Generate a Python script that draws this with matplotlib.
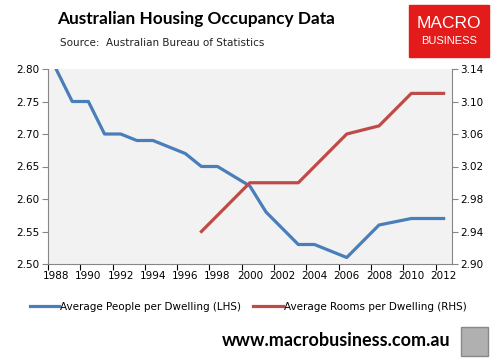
import matplotlib
matplotlib.use("Agg")
import matplotlib.pyplot as plt
from matplotlib.patches import Rectangle

years = list(range(1988, 2013))
people = [2.80, 2.75, 2.75, 2.70, 2.70, 2.69, 2.69, 2.68, 2.67, 2.65, 2.65, 2.635,
          2.62, 2.58, 2.555, 2.53, 2.53, 2.52, 2.51, 2.535, 2.56, 2.565, 2.57, 2.57, 2.57]
room_years = list(range(1997, 2013))
rooms = [2.94, 2.96, 2.98, 3.00, 3.00, 3.00, 3.00, 3.02, 3.04, 3.06, 3.065, 3.07,
         3.09, 3.11, 3.11, 3.11]
left_ticks = [2.50, 2.55, 2.60, 2.65, 2.70, 2.75, 2.80]
right_ticks = [2.90, 2.94, 2.98, 3.02, 3.06, 3.10, 3.14]

blue = "#4a7ebb"
red = "#be4b48"
axis_grey = "#868686"

fig = plt.figure(figsize=(4.96, 3.58), dpi=100)
ax = fig.add_axes([48 / 496, 1 - 264 / 358, (451.7 - 48) / 496, (264 - 69) / 358])
ax.set_facecolor("#f2f2f2")
ax2 = ax.twinx()

x_people = [y - years[0] for y in years]
x_rooms = [y - years[0] for y in room_years]
l1, = ax.plot(x_people, people, color=blue, lw=2.3, solid_joinstyle="round")
l2, = ax2.plot(x_rooms, rooms, color=red, lw=2.3, solid_joinstyle="round")

ax.set_xlim(-0.5, len(years) - 0.5)
ax.set_ylim(2.50, 2.80)
ax2.set_ylim(2.90, 3.14)
ax.set_yticks(left_ticks)
ax.set_yticklabels([f"{v:.2f}" for v in left_ticks])
ax2.set_yticks(right_ticks)
ax2.set_yticklabels([f"{v:.2f}" for v in right_ticks])

# category axis: ticks between categories, labels every other year
ax.set_xticks([i - 0.5 for i in range(0, len(years), 2)])
ax.set_xticklabels([])
ax.set_xticks(list(range(0, len(years), 2)), minor=True)
ax.set_xticklabels([str(y) for y in years[::2]], minor=True)
ax.tick_params(axis="x", which="minor", length=0, pad=5)
ax.tick_params(axis="x", which="major", length=4, color=axis_grey)

for a in (ax, ax2):
    for s in a.spines.values():
        s.set_visible(False)
    a.tick_params(labelsize=7.5, colors="black")
    a.tick_params(axis="y", length=4, color=axis_grey, pad=2)
ax.tick_params(axis="x", which="both", labelsize=7.5)
ax.spines["left"].set_visible(True)
ax.spines["left"].set_color(axis_grey)
ax.spines["bottom"].set_visible(True)
ax.spines["bottom"].set_color(axis_grey)
ax2.spines["right"].set_visible(True)
ax2.spines["right"].set_color(axis_grey)

fig.legend([l1, l2], ["Average People per Dwelling (LHS)", "Average Rooms per Dwelling (RHS)"],
           loc="center", bbox_to_anchor=(0.5, 1 - 307 / 358), ncol=2, frameon=False,
           fontsize=7.5, handlelength=2.8, handletextpad=0.1, columnspacing=1.2)

fig.text(57 / 496, 1 - 19 / 358, "Australian Housing Occupancy Data", fontsize=12.4,
         fontweight="bold", family="Lato", va="center", ha="left")
fig.text(60 / 496, 1 - 43 / 358, "Source:  Australian Bureau of Statistics", fontsize=7.5,
         va="center", ha="left", color="#222222")

# logo box
fig.patches.append(Rectangle((409 / 496, 1 - 57 / 358), 80 / 496, 52 / 358,
                             transform=fig.transFigure, color="#e31b1b"))
fig.text(449 / 496, 1 - 23 / 358, "MACRO", color="white", fontsize=12.5, ha="center",
         va="center", family="Liberation Sans")
fig.text(449 / 496, 1 - 41 / 358, "BUSINESS", color="white", fontsize=8, ha="center",
         va="center", family="Liberation Sans")

fig.text(450 / 496, 1 - 341 / 358, "www.macrobusiness.com.au", fontsize=13,
         fontweight="bold", family="Lato", va="center", ha="right")
fig.patches.append(Rectangle((461 / 496, 1 - 356 / 358), 27 / 496, 29 / 358,
                             transform=fig.transFigure, facecolor="#b0b0b0",
                             edgecolor="#888888", lw=1))

fig.savefig("out.png", dpi=100)
